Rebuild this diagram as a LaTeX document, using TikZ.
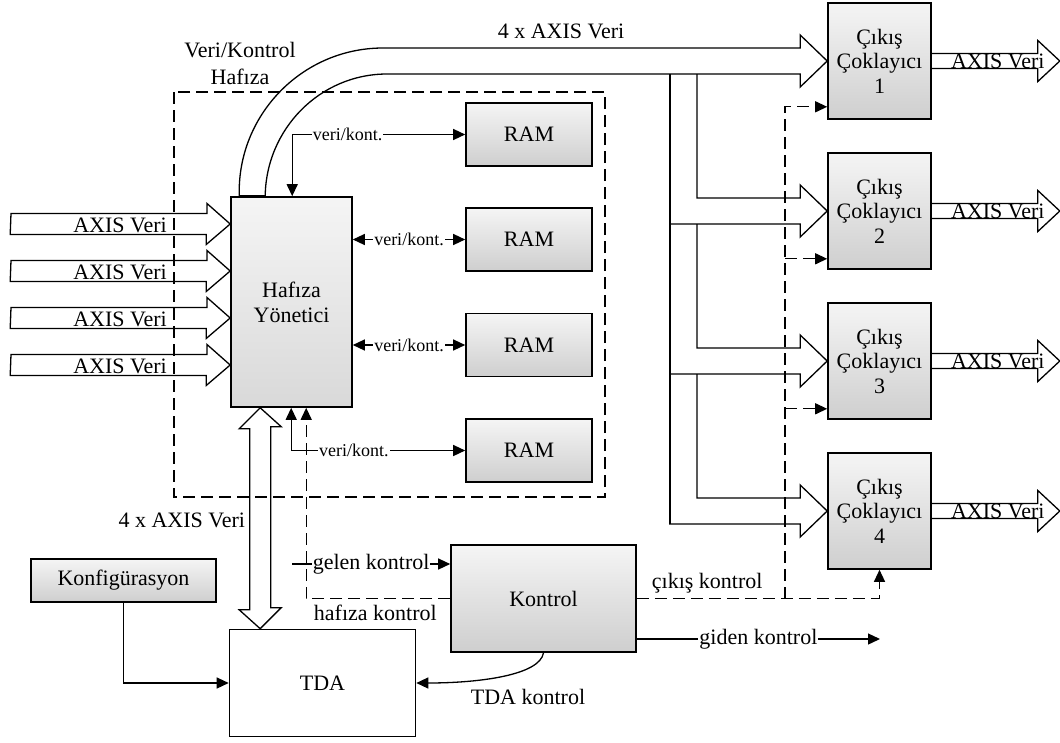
\documentclass[tikz,border=0pt]{standalone}
\usepackage{fontspec}
\setmainfont{Liberation Serif}
\usetikzlibrary{arrows.meta,calc,positioning}

\begin{document}
\begin{tikzpicture}[x=1pt, y=-1pt,
      font=\fontsize{22}{25}\selectfont,
      line width=1.3pt,
      >={Triangle[length=12pt,width=11pt]},
      box/.style={draw, line width=1.6pt, top color=black!4, bottom color=black!19, align=center, inner sep=0pt},
      ram/.style={box, minimum width=126, minimum height=63},
      mux/.style={box, minimum width=103, minimum height=116, font=\fontsize{22}{24.5}\selectfont},
      ctrl/.style={dash pattern=on 12pt off 6pt},
      lbl/.style={fill=white, inner sep=1pt},
      small/.style={font=\fontsize{18}{20}\selectfont}
    ]
    \fill[white] (0,0) rectangle (1060,742);
    \useasboundingbox (0,0) rectangle (1060,742);

    \node[box, minimum width=121, minimum height=210, top color=black!4, bottom color=black!15] (hafiza) at (291.5,302) {Hafıza\\Yönetici};
    \foreach \k/\y in {1/134.5,2/239.5,3/345,4/450.5}{%
      \node[ram] (ram\k) at (529,\y) {RAM};
    }
    \foreach \k in {1,...,4}{%
      \node[mux] (mux\k) at (879.5,{61+150*(\k-1)}) {Çıkış\\Çoklayıcı\\\k};
    }
    \node[box, minimum width=185, minimum height=43] (konf) at (123.5,580.5) {Konfigürasyon};
    \node[draw, line width=1.6pt, fill=white, minimum width=186, minimum height=107] (tda) at (322.5,683) {TDA};
    \node[box, minimum width=185, minimum height=107] (kontrol) at (543.5,598.5) {Kontrol};

    % giris akislari
    \foreach \k/\y in {1/224,2/271,3/318,4/365}{%
      \coordinate (in\k) at (11,\y);
      \draw[fill=white] ($(in\k)+(0,-10.5)$) -- ++(196,0) -- ++(0,-10) -- (hafiza.west |- in\k) -- ++(-24,20.5) -- ++(0,-10) -- ++(-196,0) -- cycle;
      \node (inlbl\k) at (120,\y+1.5) {AXIS Veri};
    }

    % 4 x AXIS veri yolu
    \draw ($(hafiza.north west)+(9,0)$) -- ++(0,-6) .. controls (240,112) and (304,48) .. (383,48) -- ($(mux1.west)+(-27,-13)$) -- ++(0,-13) -- (mux1.west) -- ++(-27,26) -- ++(0,-13) -- (387,74) .. controls (320,74) and (266,129) .. ($(hafiza.north west)+(35,0)$);
    \draw[line width=3pt] ($(hafiza.north west)+(9,0)$) -- ++(26,0);
    \draw (670,74) -- (670,524);
    \foreach \k/\p in {2/74,3/224,4/374}{%
      \draw (697,\p) |- ($(mux\k.west)+(-27,-13)$) -- ++(0,-13) -- (mux\k.west) -- ++(-27,26) -- ++(0,-13) -- ++(-131,0);
    }
    \node (buslbl) at (561,31) {4 x AXIS Veri};

    \foreach \k in {1,...,4}{%
      \draw ($(mux\k.east)+(0,-7.5)$) -- ++(106,0) -- ++(0,-13) -- ++(22,20.5) -- ++(-22,20.5) -- ++(0,-13) -- ++(-106,0);
      \node (outlbl\k) at ($(mux\k.east)+(66,0)$) {AXIS Veri};
    }

    \coordinate (bt) at ($(hafiza.south west)+(30,0)$);
    \draw (bt) -- ++(-21,21) -- ++(10.5,0) -- ++(0,181) -- ++(-10.5,0) -- (tda.north -| bt) -- ++(21,-21) -- ++(-10.5,0) -- ++(0,-181) -- ++(10.5,0) -- cycle;
    \node[anchor=east] (tdabuslbl) at (249,520) {4 x AXIS Veri};

    % hafiza <-> RAM
    \draw[<->] ($(hafiza.north west)+(62,0)$) |- (ram1.west) node[pos=0.66, lbl, small] {veri/kont.};
    \foreach \k in {2,3}{%
      \draw[<->] (hafiza.east |- ram\k) -- (ram\k.west) node[midway, lbl, small] {veri/kont.};
    }
    \draw[<->] ($(hafiza.south west)+(61,0)$) |- (ram4.west) node[pos=0.68, lbl, small] {veri/kont.};

    % kontrol
    \draw[ctrl,->] (kontrol.west) -| ($(hafiza.south west)+(76,0)$) node[pos=0.26, below=3pt] {hafıza kontrol};
    \coordinate (gelen) at (292,564);
    \draw[->] (gelen) -- (kontrol.west |- gelen) node[midway, lbl] {gelen kontrol};
    \draw[ctrl,->] (kontrol.east) -| (mux4.south) node[pos=0.145, above=1pt] {çıkış kontrol};
    \coordinate (split) at (785,598.5);
    \draw[ctrl,->] (split) |- ($(mux1.south west)+(0,-13)$);
    \foreach \k in {2,3}{%
      \draw[ctrl,->] ($(split |- mux\k.south west)+(0,-11)$) -- ($(mux\k.south west)+(0,-11)$);
    }
    \coordinate (giden) at (880,639);
    \draw[->] (kontrol.south east |- giden) -- (giden) node[midway, lbl] {giden kontrol};
    \draw[->] (kontrol.south) .. controls (540,675) and (480,683) .. (tda.east);
    \node (tdakontlbl) at (528,697) {TDA kontrol};
    \draw[->] (konf.south) |- (tda.west);

    \draw[ctrl] (174,92) rectangle (605,497);
    \node[align=center, font=\fontsize{22}{27}\selectfont] (memlbl) at (240,63) {Veri/Kontrol\\Hafıza};
  \end{tikzpicture}
\end{document}
